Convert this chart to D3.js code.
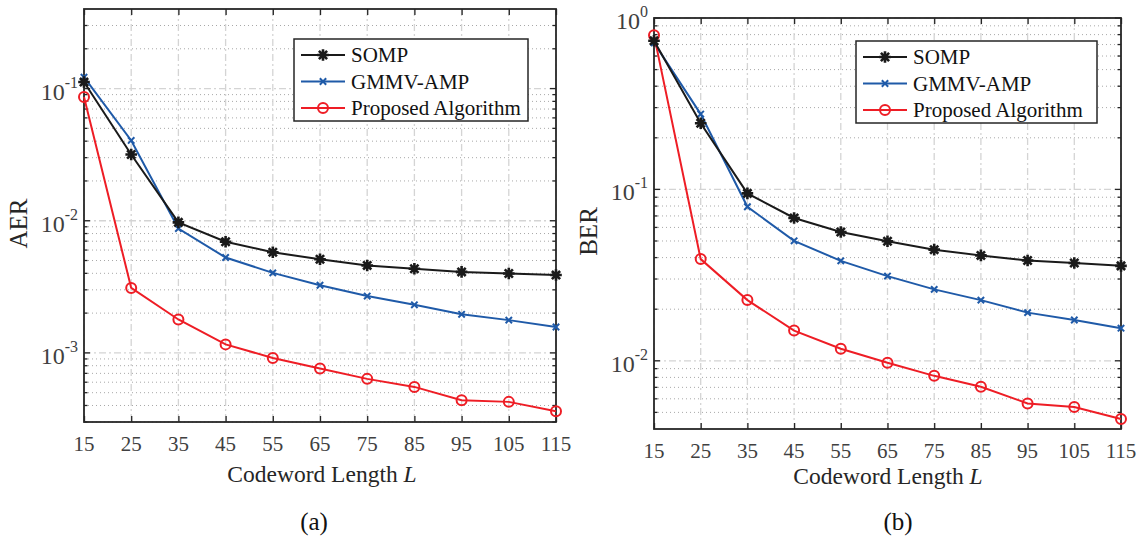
<!DOCTYPE html>
<html>
<head>
<meta charset="utf-8">
<script src="https://cdn.jsdelivr.net/npm/d3@7"></script>
<style>
  body { margin: 0; background: #fff; }
  svg { display: block; }
  text { font-family: "Liberation Serif", "Times New Roman", Times, serif; }
</style>
</head>
<body>
<svg id="fig" width="1141" height="537"></svg>
<script>
// codeword length L on the x axis
var codeLength = [15, 25, 35, 45, 55, 65, 75, 85, 95, 105, 115];

// (a) activity error rate
var aerSOMP     = [0.112, 0.0317, 0.00972, 0.00694, 0.00577, 0.00511, 0.00459, 0.00433, 0.00410, 0.00399, 0.00388];
var aerGMMV     = [0.122, 0.0405, 0.00873, 0.00527, 0.00403, 0.00325, 0.00269, 0.00231, 0.00196, 0.00177, 0.00157];
var aerProposed = [0.0864, 0.00310, 0.00179, 0.00116, 0.000916, 0.000762, 0.000636, 0.000553, 0.000439, 0.000426, 0.000362];

// (b) bit error rate
var berSOMP     = [0.736, 0.243, 0.0948, 0.0681, 0.0564, 0.0498, 0.0445, 0.0412, 0.0385, 0.0372, 0.0358];
var berGMMV     = [0.716, 0.275, 0.0792, 0.0501, 0.0383, 0.0312, 0.0261, 0.0226, 0.0191, 0.0173, 0.0155];
var berProposed = [0.794, 0.0392, 0.0226, 0.0150, 0.01175, 0.00973, 0.00817, 0.00705, 0.00564, 0.00537, 0.00457];

var seriesNames = ["SOMP", "GMMV-AMP", "Proposed Algorithm"];
var aerExps = [-1, -2, -3];
var berExps = [0, -1, -2];

var colors = ["#1a1a1a", "#1f5aa8", "#ee1d25"];
var markers = ["star", "cross", "circle"];
var axisCol = "#262626";

var svg = d3.select("#fig");

function drawMarker(g, type, cx, cy, color) {
  if (type == "circle") {
    g.append("circle").attr("cx", cx).attr("cy", cy).attr("r", 5)
      .attr("fill", "none").attr("stroke", color).attr("stroke-width", 2);
  } else {
    var r = type == "star" ? 5.8 : 4.5;
    var d = r * 0.7071;
    var p = "M" + (cx - d) + "," + (cy - d) + "L" + (cx + d) + "," + (cy + d) +
            "M" + (cx - d) + "," + (cy + d) + "L" + (cx + d) + "," + (cy - d);
    if (type == "star") {
      p += "M" + (cx - r) + "," + cy + "L" + (cx + r) + "," + cy +
           "M" + cx + "," + (cy - r) + "L" + cx + "," + (cy + r);
    }
    g.append("path").attr("d", p).attr("stroke", color)
      .attr("stroke-width", type == "star" ? 2.6 : 2).attr("fill", "none");
  }
}

function drawPanel(o) {
  var g = svg.append("g");
  var x = d3.scaleLinear().domain([15, 115]).range([o.left, o.right]);
  var y = d3.scaleLog().domain(o.yDomain).range([o.bottom, o.top]);

  // minor values 2..9 x 10^k inside the domain
  var minors = [];
  for (var k = -5; k <= 0; k++) {
    for (var m = 2; m <= 9; m++) {
      var v = m * Math.pow(10, k);
      if (v > o.yDomain[0] && v < o.yDomain[1]) minors.push(v);
    }
  }
  var majors = o.exps.map(function(e) { return Math.pow(10, e); });

  // grid
  g.selectAll(".ming").data(minors).enter().append("line")
    .attr("x1", o.left).attr("x2", o.right)
    .attr("y1", function(d) { return y(d); }).attr("y2", function(d) { return y(d); })
    .attr("stroke", "#a8a8a8").attr("stroke-width", 1).attr("stroke-dasharray", "1,3");
  g.selectAll(".majg").data(majors).enter().append("line")
    .attr("x1", o.left).attr("x2", o.right)
    .attr("y1", function(d) { return y(d); }).attr("y2", function(d) { return y(d); })
    .attr("stroke", "#d4d4d4").attr("stroke-width", 1.3).attr("stroke-dasharray", "7,3,2,3");
  g.selectAll(".xg").data(codeLength).enter().append("line")
    .attr("x1", function(d) { return x(d); }).attr("x2", function(d) { return x(d); })
    .attr("y1", o.top).attr("y2", o.bottom)
    .attr("stroke", "#d4d4d4").attr("stroke-width", 1.3).attr("stroke-dasharray", "7,3,2,3");

  // ticks on all four sides, pointing inward
  var bottomAx = d3.axisBottom(x).tickValues(codeLength).tickSize(-6).tickFormat("");
  var topAx = d3.axisTop(x).tickValues(codeLength).tickSize(-6).tickFormat("");
  g.append("g").attr("transform", "translate(0," + o.bottom + ")").call(bottomAx);
  g.append("g").attr("transform", "translate(0," + o.top + ")").call(topAx);
  [[o.left, 1], [o.right, -1]].forEach(function(s) {
    g.selectAll(null).data(majors).enter().append("line")
      .attr("x1", s[0]).attr("x2", s[0] + s[1] * 6)
      .attr("y1", function(d) { return y(d); }).attr("y2", function(d) { return y(d); })
      .attr("stroke", axisCol).attr("stroke-width", 1.3);
    g.selectAll(null).data(minors).enter().append("line")
      .attr("x1", s[0]).attr("x2", s[0] + s[1] * 3.5)
      .attr("y1", function(d) { return y(d); }).attr("y2", function(d) { return y(d); })
      .attr("stroke", axisCol).attr("stroke-width", 1.3);
  });
  g.selectAll(".domain").remove();
  g.selectAll(".tick line").attr("stroke", axisCol).attr("stroke-width", 1.3);

  g.append("rect").attr("x", o.left).attr("y", o.top)
    .attr("width", o.right - o.left).attr("height", o.bottom - o.top)
    .attr("fill", "none").attr("stroke", axisCol).attr("stroke-width", 1.8);

  // tick labels
  g.selectAll(".xl").data(codeLength).enter().append("text")
    .attr("x", function(d) { return x(d); }).attr("y", o.bottom + 29)
    .attr("text-anchor", "middle").attr("font-size", 21).attr("fill", "#404040")
    .text(function(d) { return d; });
  o.exps.forEach(function(e) {
    var t = g.append("text").attr("x", o.left - 6).attr("y", y(Math.pow(10, e)) + 11)
      .attr("text-anchor", "end").attr("font-size", 24).attr("fill", "#404040");
    t.append("tspan").text("10");
    t.append("tspan").attr("dy", -12).attr("font-size", 16).text(String(e));
  });

  // axis titles and caption
  g.append("text").attr("transform", "translate(" + o.ylabX + "," + ((o.top + o.bottom) / 2 + 8) + ") rotate(-90)")
    .attr("text-anchor", "middle").attr("font-size", 25).attr("fill", "#262626").text(o.ylabel);
  var xl = g.append("text").attr("x", o.xlabX).attr("y", o.xlabY)
    .attr("text-anchor", "middle").attr("font-size", 23.5).attr("fill", "#262626");
  xl.append("tspan").text("Codeword Length ");
  xl.append("tspan").attr("font-style", "italic").text("L");
  g.append("text").attr("x", o.capX).attr("y", 530).attr("text-anchor", "middle")
    .attr("font-size", 25).attr("fill", "#111").text(o.caption);

  // series
  var line = d3.line().x(function(d, i) { return x(codeLength[i]); }).y(function(d) { return y(d); });
  var order = [1, 2, 0];
  order.forEach(function(s) {
    g.append("path").datum(o.series[s]).attr("d", line)
      .attr("fill", "none").attr("stroke", colors[s]).attr("stroke-width", 2);
    o.series[s].forEach(function(d, i) {
      drawMarker(g, markers[s], x(codeLength[i]), y(d), colors[s]);
    });
  });

  // legend
  var lg = g.append("g");
  lg.append("rect").attr("x", o.leg[0]).attr("y", o.leg[1]).attr("width", o.leg[2]).attr("height", 82)
    .attr("fill", "#fff").attr("stroke", axisCol).attr("stroke-width", 1.5);
  seriesNames.forEach(function(name, i) {
    var ly = o.leg[1] + 16 + i * 26.5;
    var x1 = o.leg[0] + 7, x2 = x1 + 44;
    lg.append("line").attr("x1", x1).attr("x2", x2).attr("y1", ly).attr("y2", ly)
      .attr("stroke", colors[i]).attr("stroke-width", 2);
    drawMarker(lg, markers[i], (x1 + x2) / 2, ly, colors[i]);
    lg.append("text").attr("x", x2 + 6).attr("y", ly + 7).attr("font-size", 21)
      .attr("fill", "#111").text(name);
  });
}

drawPanel({
  left: 84, right: 556, top: 9, bottom: 422,
  yDomain: [3e-4, 0.4], exps: aerExps,
  series: [aerSOMP, aerGMMV, aerProposed],
  ylabel: "AER", ylabX: 27,
  xlabX: 322, xlabY: 482, capX: 314, caption: "(a)",
  leg: [294, 39, 234]
});

drawPanel({
  left: 654, right: 1121, top: 18, bottom: 429,
  yDomain: [0.004, 1], exps: berExps,
  series: [berSOMP, berGMMV, berProposed],
  ylabel: "BER", ylabX: 597,
  xlabX: 888, xlabY: 484, capX: 898, caption: "(b)",
  leg: [856, 41, 241]
});
</script>
</body>
</html>
